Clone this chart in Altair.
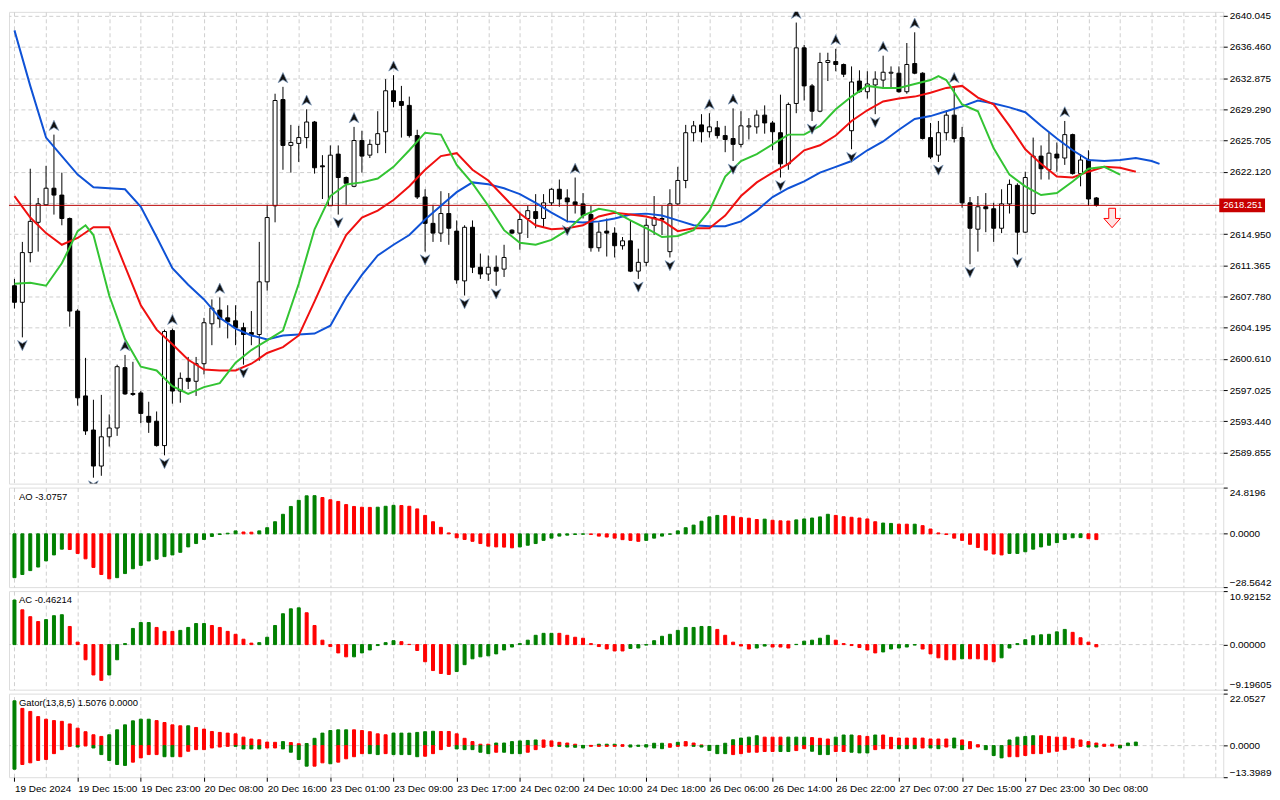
import altair as alt
import pandas as pd
import numpy as np

# ---------------- price data (H1 candles, bar index 0..137) ----------------
opens = [
    2609.01, 2607.11, 2612.82, 2616.30, 2618.31, 2620.22, 2619.43, 2616.74, 2606.10, 2596.35,
    2592.43, 2588.29, 2591.65, 2592.66, 2599.60, 2596.63, 2596.69, 2594.00, 2593.44, 2590.64,
    2603.86, 2596.91, 2598.37, 2598.03, 2600.05, 2604.64, 2606.21, 2605.32, 2604.98, 2604.19,
    2603.63, 2603.41, 2609.46, 2618.20, 2630.41, 2625.14, 2625.37, 2626.04, 2627.83, 2622.79,
    2618.20, 2624.14, 2621.45, 2620.44, 2625.70, 2624.02, 2625.26, 2626.71, 2631.42, 2630.19,
    2629.74, 2626.27, 2619.21, 2616.18, 2615.06, 2617.31, 2615.29, 2609.57, 2615.73, 2611.14,
    2610.36, 2611.14, 2610.92, 2615.40, 2615.06, 2616.74, 2617.53, 2616.74, 2618.54, 2620.10,
    2619.10, 2618.65, 2618.42, 2617.19, 2613.38, 2615.29, 2615.06, 2613.61, 2614.17, 2610.69,
    2611.70, 2615.96, 2616.74, 2612.93, 2618.42, 2621.11, 2626.60, 2627.50, 2626.71, 2627.16,
    2626.27, 2625.93, 2625.26, 2627.27, 2627.27, 2628.62, 2627.72, 2626.60, 2623.02, 2629.96,
    2636.35, 2631.98, 2629.07, 2634.67, 2634.78, 2634.44, 2626.83, 2632.54, 2631.31, 2632.09,
    2632.65, 2633.44, 2633.44, 2631.31, 2634.55, 2633.44, 2626.04, 2624.02, 2626.60, 2628.62,
    2626.04, 2618.54, 2615.51, 2618.09, 2617.86, 2615.62, 2618.42, 2620.55, 2615.17, 2617.31,
    2623.91, 2622.34, 2624.14, 2623.69, 2626.38, 2621.90, 2623.46, 2619.10]
highs = [
    2609.80, 2614.05, 2622.46, 2619.10, 2622.79, 2626.38, 2622.01, 2616.85, 2606.32, 2600.72,
    2595.91, 2596.47, 2594.22, 2599.94, 2601.06, 2600.27, 2596.91, 2595.68, 2594.56, 2603.97,
    2604.08, 2599.04, 2600.83, 2600.83, 2605.32, 2607.44, 2607.67, 2606.77, 2606.77, 2604.76,
    2606.10, 2614.05, 2618.31, 2631.08, 2631.87, 2627.50, 2627.39, 2629.29, 2627.95, 2624.02,
    2625.14, 2625.14, 2621.56, 2627.27, 2626.83, 2625.82, 2629.07, 2632.76, 2633.21, 2631.98,
    2630.75, 2626.94, 2620.10, 2618.31, 2619.88, 2619.66, 2616.52, 2615.96, 2616.52, 2612.71,
    2612.49, 2612.49, 2613.72, 2615.51, 2617.53, 2618.20, 2619.54, 2619.54, 2620.22, 2621.22,
    2620.10, 2621.45, 2619.66, 2618.20, 2616.30, 2616.74, 2615.73, 2614.61, 2616.52, 2613.27,
    2616.74, 2619.32, 2618.20, 2620.10, 2622.68, 2627.50, 2627.95, 2628.73, 2628.84, 2627.95,
    2627.39, 2629.40, 2629.07, 2628.28, 2629.18, 2629.74, 2627.95, 2630.97, 2630.07, 2639.26,
    2636.69, 2632.20, 2635.79, 2635.79, 2636.24, 2634.55, 2634.22, 2633.77, 2633.66, 2633.66,
    2635.45, 2634.22, 2634.22, 2636.91, 2638.14, 2633.55, 2627.72, 2627.95, 2629.18, 2631.87,
    2627.27, 2619.21, 2619.32, 2619.66, 2618.54, 2620.10, 2621.22, 2620.78, 2622.12, 2626.04,
    2625.14, 2626.60, 2625.48, 2627.95, 2626.49, 2624.14, 2624.58, 2619.21]
lows = [
    2606.40, 2603.08, 2611.70, 2612.93, 2618.20, 2617.19, 2615.96, 2604.31, 2595.23, 2591.87,
    2586.95, 2587.17, 2590.53, 2591.76, 2596.47, 2596.35, 2593.22, 2592.10, 2590.53, 2589.52,
    2595.46, 2595.57, 2597.14, 2596.35, 2598.82, 2602.18, 2604.19, 2602.96, 2602.18, 2599.94,
    2602.18, 2600.39, 2608.45, 2616.30, 2622.34, 2622.01, 2623.24, 2624.81, 2621.90, 2618.98,
    2618.76, 2617.19, 2618.31, 2620.33, 2622.01, 2623.69, 2624.25, 2624.25, 2629.51, 2626.04,
    2626.04, 2618.98, 2612.93, 2614.05, 2614.05, 2613.72, 2609.24, 2607.89, 2610.47, 2609.80,
    2609.57, 2609.01, 2610.02, 2614.95, 2613.16, 2614.50, 2615.62, 2615.73, 2618.20, 2618.09,
    2616.30, 2617.31, 2616.74, 2612.93, 2612.93, 2612.37, 2612.26, 2613.16, 2610.58, 2609.80,
    2611.25, 2614.84, 2614.84, 2612.26, 2618.31, 2620.22, 2625.59, 2625.48, 2626.04, 2625.93,
    2624.36, 2623.35, 2624.92, 2625.82, 2626.49, 2626.49, 2624.58, 2621.45, 2622.34, 2628.84,
    2630.30, 2627.95, 2628.95, 2632.54, 2633.66, 2632.99, 2624.70, 2631.20, 2630.52, 2628.73,
    2631.64, 2631.64, 2631.20, 2631.08, 2633.32, 2625.82, 2623.58, 2623.24, 2625.70, 2625.48,
    2617.98, 2611.48, 2612.93, 2615.17, 2614.05, 2615.06, 2617.31, 2612.60, 2615.06, 2617.19,
    2621.22, 2621.22, 2622.12, 2622.90, 2621.78, 2620.44, 2618.20, 2618.10]
closes = [
    2607.11, 2612.82, 2616.41, 2618.42, 2620.22, 2619.43, 2616.74, 2606.10, 2596.13, 2592.32,
    2588.29, 2591.65, 2592.66, 2599.71, 2596.58, 2596.52, 2594.34, 2593.33, 2590.64, 2603.75,
    2596.91, 2598.37, 2598.03, 2600.05, 2604.76, 2606.44, 2605.20, 2604.87, 2604.19, 2603.41,
    2603.41, 2609.46, 2616.85, 2630.30, 2625.14, 2625.48, 2626.04, 2627.83, 2622.57, 2622.68,
    2624.02, 2621.45, 2620.78, 2625.70, 2623.91, 2625.26, 2626.49, 2631.42, 2630.19, 2629.74,
    2626.27, 2619.21, 2616.18, 2615.06, 2617.31, 2615.62, 2609.68, 2615.73, 2611.14, 2610.36,
    2611.14, 2610.69, 2612.26, 2615.06, 2616.63, 2617.64, 2616.74, 2618.54, 2620.10, 2618.98,
    2618.65, 2618.31, 2617.08, 2613.38, 2615.17, 2615.06, 2613.61, 2614.17, 2610.69, 2611.70,
    2615.96, 2616.85, 2616.63, 2618.42, 2621.11, 2626.60, 2627.39, 2626.71, 2627.27, 2626.27,
    2625.82, 2625.26, 2627.39, 2627.39, 2628.62, 2627.72, 2626.71, 2623.02, 2629.85, 2636.35,
    2631.98, 2629.07, 2634.67, 2634.89, 2634.44, 2633.32, 2632.43, 2631.31, 2632.20, 2632.76,
    2633.55, 2633.55, 2631.31, 2634.44, 2633.44, 2625.93, 2623.80, 2626.60, 2628.62, 2625.93,
    2618.54, 2615.62, 2618.09, 2617.86, 2615.62, 2618.42, 2620.66, 2615.17, 2621.45, 2623.91,
    2622.46, 2624.25, 2623.69, 2626.38, 2621.90, 2623.46, 2618.98, 2618.251]
current_price = 2618.251

# ---------------- Alligator lines (bar index, price) ----------------
jaw_i = list(range(0, 146, 2)) + [145]
jaw = [
    2638.36, 2631.98, 2626.04, 2623.91, 2621.78, 2620.33, 2620.22, 2620.10, 2618.09, 2614.61,
    2611.03, 2609.12, 2607.44, 2605.32, 2604.08, 2603.30, 2602.85, 2603.30, 2603.41, 2603.52,
    2604.42, 2607.67, 2610.25, 2612.49, 2613.72, 2614.84, 2616.63, 2618.20, 2619.77, 2620.89,
    2620.67, 2620.22, 2619.54, 2618.54, 2617.41, 2616.41, 2616.29, 2616.41, 2616.74, 2617.19,
    2617.30, 2617.08, 2616.52, 2615.96, 2615.85, 2615.85, 2616.41, 2617.64, 2619.21, 2620.22,
    2621.00, 2622.01, 2622.68, 2623.35, 2624.58, 2625.59, 2626.94, 2628.17, 2628.51, 2629.07,
    2629.63, 2630.30, 2629.96, 2629.51, 2628.95, 2627.39, 2625.93, 2624.58, 2623.46, 2623.35,
    2623.46, 2623.69, 2623.35, 2623.02]
teeth_i = list(range(0, 143, 2))
teeth = [
    2619.32, 2616.85, 2615.06, 2613.72, 2614.50, 2615.73, 2615.73, 2611.25, 2606.77, 2603.97,
    2602.29, 2600.50, 2599.38, 2599.27, 2599.27, 2600.05, 2601.28, 2601.96, 2603.30, 2607.22,
    2611.25, 2614.84, 2616.85, 2617.64, 2618.87, 2620.44, 2622.34, 2623.91, 2624.25, 2622.34,
    2621.11, 2619.21, 2617.30, 2615.96, 2615.51, 2615.62, 2615.96, 2616.97, 2617.41, 2617.19,
    2616.97, 2616.52, 2615.29, 2615.62, 2615.62, 2617.08, 2619.32, 2620.89, 2622.01, 2623.02,
    2624.58, 2625.15, 2626.27, 2627.95, 2629.18, 2630.19, 2630.52, 2630.75, 2631.19, 2631.75,
    2631.98, 2630.63, 2629.85, 2627.39, 2624.70, 2623.02, 2621.56, 2621.45, 2622.12, 2622.68,
    2622.57, 2622.12]
lips_i = [0, 2, 4, 6, 8, 9] + list(range(10, 117, 2)) + [117] + list(range(118, 141, 2))
lips = [
    2609.24, 2609.35, 2609.01, 2611.59, 2615.29, 2615.96,
    2614.84, 2607.89, 2602.85, 2599.71, 2599.27, 2597.47, 2596.58, 2597.36, 2597.81, 2600.16,
    2601.62, 2602.74, 2603.86, 2609.24, 2615.50, 2619.32, 2620.66, 2620.89, 2621.34, 2622.68,
    2624.58, 2626.60, 2626.38, 2622.90, 2620.78, 2618.20, 2615.40, 2613.94, 2613.72, 2614.28,
    2615.40, 2617.08, 2617.86, 2617.53, 2616.52, 2615.62, 2614.61, 2614.73, 2615.40, 2617.64,
    2621.56, 2623.35, 2624.14, 2625.26, 2626.38, 2626.38, 2627.39, 2629.29, 2630.75, 2631.98,
    2631.75, 2631.75, 2632.20, 2632.65,
    2633.10,
    2632.65, 2629.85, 2629.07, 2624.81, 2621.78, 2620.44, 2619.43, 2619.66, 2621.00, 2622.46,
    2622.68, 2621.78]

# ---------------- Fractals and signal ----------------
up_fractals = [5, 14, 20, 26, 34, 37, 43, 48, 71, 88, 91, 99, 104, 110, 114, 119, 133]
down_fractals = [1, 10, 19, 29, 41, 52, 57, 61, 70, 79, 83, 91, 97, 101, 106, 109, 117, 121, 127]
signal_bar = [139]
signal_price = [2616.8]

# ---------------- Awesome Oscillator ----------------
ao = [
    -23.5, -21.8, -19.7, -17.8, -14.5, -11.3, -8.2, -8.4, -10.5, -13.4,
    -18.0, -21.8, -24.1, -23.5, -21.3, -18.7, -16.9, -14.5, -13.6, -12.2,
    -11.3, -9.9, -7.0, -5.2, -3.0, -1.4, -0.35, 0.35, 1.6, 1.0,
    0.9, 1.6, 3.3, 6.5, 10.5, 14.7, 18.0, 20.4, 20.5, 19.5,
    18.3, 17.4, 15.7, 14.7, 14.3, 14.2, 14.3, 14.8, 15.3, 15.2,
    14.8, 13.4, 9.9, 6.5, 3.5, 0.5, -2.1, -3.0, -4.0, -5.2,
    -6.6, -7.0, -7.1, -7.5, -7.0, -6.1, -5.2, -3.5, -2.3, -1.2,
    -0.7, -0.35, -0.2, -0.35, -1.2, -1.7, -2.3, -3.1, -3.5, -4.0,
    -3.5, -2.3, -1.2, -0.2, 1.6, 3.3, 4.7, 6.8, 9.1, 9.9,
    9.8, 9.4, 8.7, 8.4, 7.7, 7.9, 7.3, 7.0, 6.9, 7.5,
    8.0, 8.5, 9.1, 10.5, 9.9, 9.2, 8.9, 8.5, 8.0, 6.5,
    5.8, 5.6, 5.2, 5.2, 5.2, 4.4, 2.6, 0.5, -0.35, -2.3,
    -3.5, -5.6, -7.3, -8.7, -10.8, -11.3, -10.5, -10.5, -9.6, -8.2,
    -7.0, -6.1, -4.7, -3.0, -2.1, -2.0, -2.6, -3.0757]
ao_colors = "".join([
    "gggggggrrr", "rrrggggggg", "gggggggggr", "rggggggggr", "rrrrrrgggr",
    "rrrrrrrrrr", "rrrrgggggg", "gggrrrrrrr", "gggggggggg", "rrrrrgrrrg",
    "ggggrrrrrr", "ggrrgrrrrr", "rrrrrrgggg", "ggggggrr"])

# ---------------- Accelerator Oscillator ----------------
ac = [
    9.1, 7.1, 5.7, 4.7, 5.1, 5.9, 6.1, 3.7, 0.5, -3.1,
    -6.2, -7.3, -6.2, -3.1, 0.2, 3.3, 4.5, 4.5, 3.5, 2.7,
    2.7, 2.9, 3.5, 4.3, 4.3, 3.9, 3.5, 2.7, 2.1, 1.1,
    0.3, 0.4, 1.5, 3.9, 6.3, 7.3, 7.5, 6.5, 3.9, 0.9,
    -0.4, -1.7, -2.5, -2.5, -1.7, -1.1, -0.2, 0.4, 0.8, 0.6,
    0.05, -1.2, -3.5, -5.3, -5.9, -6.1, -5.5, -4.1, -2.9, -2.5,
    -2.3, -1.9, -1.1, -0.5, 0.2, 0.9, 1.9, 2.3, 2.3, 2.3,
    1.9, 1.5, 1.3, 0.2, -0.4, -0.9, -1.3, -1.3, -0.8, -0.7,
    -0.1, 0.8, 1.7, 2.1, 2.9, 3.5, 3.5, 3.7, 3.7, 3.1,
    1.9, 0.5, -0.3, -0.9, -0.7, -0.3, -0.5, -0.5, -0.7, 0.05,
    0.7, 0.9, 1.3, 1.9, 0.9, 0.2, -0.2, -0.6, -1.1, -1.7,
    -1.5, -0.9, -0.7, -0.5, -0.1, -0.9, -1.9, -2.7, -3.1, -3.1,
    -2.9, -2.9, -2.9, -3.1, -3.5, -2.7, -0.7, 0.2, 1.0, 1.8,
    2.0, 2.1, 2.6, 3.1, 2.5, 1.4, 0.5, -0.46214]
ac_colors = "".join([
    "grrrgggrrr", "rrggggggrr", "rggggrrrrr", "rggggggrrr", "rrrggggggr",
    "rrrrrrgggg", "gggggggggr", "rrrrrrrrgg", "gggggggggr", "rrrrggrrrg",
    "ggggrrrrrr", "gggggrrrrr", "grrrrggggg", "ggggrrrr"])

# ---------------- Gator Oscillator ----------------
gator_up = [
    19.0, 15.8, 14.5, 12.3, 11.2, 10.6, 10.3, 9.2, 7.4, 5.9,
    4.6, 3.9, 4.6, 6.7, 8.8, 10.5, 11.2, 11.2, 10.6, 9.8,
    8.8, 8.4, 8.4, 7.7, 7.0, 6.0, 5.6, 5.3, 5.0, 3.6,
    2.8, 2.5, 1.5, 1.4, 1.7, 1.3, 0.8, 0.9, 3.1, 5.3,
    6.4, 6.7, 6.7, 6.7, 6.4, 5.9, 5.0, 4.6, 5.3, 5.3,
    5.3, 5.6, 5.9, 6.1, 6.0, 6.0, 5.0, 3.1, 1.7, 0.6,
    0.6, 1.1, 1.1, 1.7, 2.0, 2.2, 2.4, 2.4, 2.0, 1.4,
    1.1, 0.6, 0.1, 0.1, 0.6, 0.6, 0.6, 0.4, 0.3, 0.2,
    0.4, 1.0, 1.0, 0.8, 1.4, 1.7, 1.1, 0.3, 0.1, 0.1,
    1.0, 2.5, 3.2, 3.6, 4.2, 3.6, 3.6, 3.6, 3.6, 3.6,
    3.6, 3.4, 3.1, 2.8, 3.6, 4.5, 4.5, 4.2, 3.9, 4.5,
    4.5, 3.5, 3.2, 3.2, 3.2, 3.2, 2.8, 2.8, 2.8, 3.2,
    2.4, 1.7, 0.4, 0.0, 0.0, 0.0, 2.4, 3.6, 3.9, 4.2,
    4.2, 3.9, 3.6, 3.6, 3.1, 2.4, 1.7, 1.1, 0.6, 0.6,
    0.2, 1.1, 1.5076]
gator_up_colors = "".join([
    "grrrrrrrrr", "rrggggggrr", "rrgrrrrrrr", "rrrrgrrggg", "gggrrrrrgg",
    "ggggrrrrrr", "rggggggrrr", "rrgrgggrgg", "gggrgrrrgg", "gggggrrrgg",
    "grrrgggrrg", "rrrrrrrrrg", "rrrrrrgggg", "rrrrrrrrrr", "rgg"])
gator_dn = [
    -10.0, -8.0, -7.3, -6.3, -5.9, -3.4, -1.7, -0.3, -0.6, -0.1,
    -1.0, -3.8, -6.3, -8.0, -8.4, -7.0, -5.2, -3.8, -3.8, -4.7,
    -4.7, -4.7, -2.4, -1.7, -1.7, -1.0, -0.6, -0.3, -0.3, -1.4,
    -1.4, -1.4, -1.0, -1.0, -1.4, -2.8, -5.9, -8.7, -8.7, -7.3,
    -7.7, -7.0, -5.6, -4.7, -3.4, -3.4, -3.8, -3.4, -3.8, -3.8,
    -3.8, -4.7, -4.5, -3.4, -1.7, -0.3, -1.4, -1.7, -1.7, -2.8,
    -3.4, -2.8, -2.8, -3.4, -3.4, -2.8, -1.7, -0.7, -0.3, -0.3,
    -0.6, -0.7, -1.0, -0.3, -0.3, -0.3, -0.3, -0.3, -0.6, -0.3,
    -0.6, -1.0, -1.3, -0.7, -0.3, -0.1, -0.3, -0.6, -2.1, -3.4,
    -3.4, -3.8, -3.4, -2.8, -2.8, -2.5, -2.5, -2.5, -2.5, -2.1,
    -1.3, -2.4, -3.8, -3.8, -2.5, -2.5, -2.8, -3.1, -3.1, -1.7,
    -1.3, -1.3, -1.3, -1.3, -1.3, -1.0, -1.0, -1.3, -0.6, -1.0,
    -1.7, -1.3, -0.6, -1.7, -4.2, -5.2, -4.7, -4.7, -4.2, -3.4,
    -3.4, -2.8, -2.4, -1.7, -1.0, -0.3, -0.6, -0.6, -0.3, -0.2,
    -1.0]
gator_dn_colors = "".join([
    "grrrrrrrgr", "gggggrrrrg", "grrrrrrrgg", "ggrrggggrr", "grrrrggrgg",
    "ggrrrrgggg", "grgggrrrrg", "gggrrrrrgg", "gggrrrgggg", "grrrrrrggr",
    "rgggrrgggr", "rrgggrggrg", "grrgggrrrr", "rrrrrrggrr", "g"])

# ---------------- axes texts ----------------
price_ticks = [2640.045, 2636.460, 2632.875, 2629.290, 2625.705, 2622.120, 2618.535,
               2614.950, 2611.365, 2607.780, 2604.195, 2600.610, 2597.025, 2593.440, 2589.855]
time_ticks = list(range(0, 137, 8))
time_labels = ["19 Dec 2024", "19 Dec 15:00", "19 Dec 23:00", "20 Dec 08:00", "20 Dec 16:00",
               "23 Dec 01:00", "23 Dec 09:00", "23 Dec 17:00", "24 Dec 02:00", "24 Dec 10:00",
               "24 Dec 18:00", "26 Dec 06:00", "26 Dec 14:00", "26 Dec 22:00", "27 Dec 07:00",
               "27 Dec 15:00", "27 Dec 23:00", "30 Dec 08:00"]
panel_titles = ["AO -3.0757", "AC -0.46214", "Gator(13,8,5) 1.5076 0.0000"]
ao_range = [-28.5642, 24.8196]
ac_range = [-9.19605, 10.92152]
gator_range = [-13.3989, 22.0527]
main_range = [2586.27, 2640.49]

# ---------------- styling ----------------
W = 1220
H_MAIN, H_AO, H_AC, H_GA = 474, 100, 99, 84
X_MIN = -0.0625
X_MAX = X_MIN + W / 8.0
FONT = "Liberation Sans"
FS = 9.5
GRID = "#cfcfcf"
DASH = [4, 3]
GREEN = "#008000"
RED = "#ff0000"
col_scale = alt.Scale(domain=["g", "r"], range=[GREEN, RED])
xs = alt.Scale(domain=[X_MIN, X_MAX], nice=False, zero=False)


def grid_axis(orient="bottom"):
    return alt.Axis(orient=orient, values=list(range(0, 153, 4)), grid=True, gridColor=GRID,
                    gridDash=DASH, gridWidth=1, labels=False, ticks=False, domain=False, title=None)


GX = grid_axis()

# ---------------- main panel ----------------
cdf = pd.DataFrame({"i": range(len(opens)), "o": opens, "h": highs, "l": lows, "c": closes})
up_c = cdf[cdf["c"] >= cdf["o"]]
dn_c = cdf[cdf["c"] < cdf["o"]]
ys_main = alt.Scale(domain=main_range, nice=False, zero=False)
PY = alt.Axis(orient="right", values=price_ticks, grid=True, gridColor=GRID, gridDash=DASH,
              tickSize=4, tickColor="black", domain=False, title=None, labelPadding=2,
              labelExpr="abs(datum.value - 2618.535) < 0.0005 ? '' : format(datum.value, '.3f')")


def mx(field="i:Q"):
    return alt.X(field, scale=xs, axis=GX, title=None)


def my(field):
    return alt.Y(field, scale=ys_main, axis=PY, title=None)


wicks = alt.Chart(cdf).mark_rule(color="black", strokeWidth=1, clip=True).encode(
    x=mx(), y=my("l:Q"), y2="h:Q")
bodies_up = alt.Chart(up_c).mark_bar(size=4, fill="white", stroke="black", strokeWidth=1, clip=True).encode(
    x=mx(), y=my("o:Q"), y2="c:Q")
bodies_dn = alt.Chart(dn_c).mark_bar(size=4, fill="black", stroke="black", strokeWidth=1, clip=True).encode(
    x=mx(), y=my("o:Q"), y2="c:Q")


def line_layer(idx, vals, color):
    df = pd.DataFrame({"i": idx, "v": vals})
    return alt.Chart(df).mark_line(color=color, strokeWidth=2, clip=True).encode(x=mx(), y=my("v:Q"))


jaw_l = line_layer(jaw_i, jaw, "#0f52d6")
teeth_l = line_layer(teeth_i, teeth, "#f01010")
lips_l = line_layer(lips_i, lips, "#33c433")

cur_df = pd.DataFrame({"p": [current_price], "t": [f"{current_price:.3f}"]})
price_rule = alt.Chart(cur_df).mark_rule(color="#b80000", strokeWidth=1).encode(y=my("p:Q"))

UP_PATH = "M0,-1 L0.9,0.9 L0,0.35 L-0.9,0.9 Z"
DN_PATH = "M0,1 L0.9,-0.9 L0,-0.35 L-0.9,-0.9 Z"
up_df = pd.DataFrame({"i": up_fractals, "p": [highs[k] for k in up_fractals]})
dn_df = pd.DataFrame({"i": down_fractals, "p": [lows[k] for k in down_fractals]})
up_pts = alt.Chart(up_df).mark_point(shape=UP_PATH, filled=True, fill="#111111", stroke="#7d9cc0",
                                     strokeWidth=0.7, size=115, opacity=1, yOffset=-9, clip=True).encode(
    x=mx(), y=my("p:Q"))
dn_pts = alt.Chart(dn_df).mark_point(shape=DN_PATH, filled=True, fill="#111111", stroke="#7d9cc0",
                                     strokeWidth=0.7, size=115, opacity=1, yOffset=8, clip=True).encode(
    x=mx(), y=my("p:Q"))

SIG_PATH = "M-0.35,-1 L0.35,-1 L0.35,0.05 L0.85,0.05 L0,1 L-0.85,0.05 L-0.35,0.05 Z"
sig_df = pd.DataFrame({"i": signal_bar, "p": signal_price})
signal = alt.Chart(sig_df).mark_point(shape=SIG_PATH, filled=True, fill="#ffe4e4", stroke="#ff0000",
                                      strokeWidth=1, size=380, opacity=1).encode(x=mx(), y=my("p:Q"))

tag_rect = alt.Chart(cur_df).mark_rect(color="#c80000", xOffset=1, x2Offset=47,
                                       yOffset=-7, y2Offset=7).encode(
    x=alt.XDatum(X_MAX, scale=xs, axis=GX), x2=alt.X2Datum(X_MAX),
    y=my("p:Q"), y2="p:Q")
tag_text = alt.Chart(cur_df).mark_text(align="left", baseline="middle", dx=5, color="white",
                                       font=FONT, fontSize=FS).encode(
    x=alt.XDatum(X_MAX, scale=xs, axis=GX), y=my("p:Q"), text="t:N")

main = alt.layer(wicks, bodies_up, bodies_dn, price_rule, jaw_l, teeth_l, lips_l, up_pts, dn_pts,
                 signal, tag_rect, tag_text).properties(width=W, height=H_MAIN)


# ---------------- indicator panels ----------------
def hist_df(vals, colors):
    df = pd.DataFrame({"i": range(len(vals)), "v": vals, "c": list(colors)})
    df["z"] = 0.0
    return df[df["v"] != 0]


def panel_axis(rng, fmt):
    return alt.Axis(orient="right", values=[rng[0], 0, rng[1]], format=fmt, tickSize=4,
                    tickColor="black", domain=False, grid=False, labelFlush=True, title=None,
                    labelPadding=2)


def hist_layer(df, ys, yaxis, xaxis):
    return alt.Chart(df).mark_bar(size=3, strokeWidth=1, clip=True).encode(
        x=alt.X("i:Q", scale=xs, axis=xaxis, title=None),
        y=alt.Y("v:Q", scale=ys, axis=yaxis, title=None),
        y2="z:Q",
        fill=alt.Fill("c:N", scale=col_scale, legend=None),
        stroke=alt.Stroke("c:N", scale=col_scale, legend=None))


def zero_layer(ys, yaxis):
    return alt.Chart(pd.DataFrame({"z": [0.0]})).mark_rule(
        color=GRID, strokeDash=DASH, strokeWidth=1).encode(
        y=alt.Y("z:Q", scale=ys, axis=yaxis, title=None))


def title_layer(title, rng, ys, yaxis, xaxis):
    return alt.Chart(pd.DataFrame({"t": [title]})).mark_text(
        align="left", baseline="top", dx=5, dy=4, font=FONT, fontSize=FS, color="black").encode(
        x=alt.XDatum(X_MIN, scale=xs, axis=xaxis),
        y=alt.YDatum(rng[1], scale=ys, axis=yaxis), text="t:N")


def indicator(vals, colors, rng, fmt, title, height):
    ys = alt.Scale(domain=rng, nice=False, zero=False)
    ya = panel_axis(rng, fmt)
    return alt.layer(
        zero_layer(ys, ya),
        hist_layer(hist_df(vals, colors), ys, ya, GX),
        title_layer(title, rng, ys, ya, GX),
    ).properties(width=W, height=height)


ao_panel = indicator(ao, ao_colors, ao_range, ".4f", panel_titles[0], H_AO)
ac_panel = indicator(ac, ac_colors, ac_range, ".5f", panel_titles[1], H_AC)

label_array = "[" + ",".join("'" + s + "'" for s in time_labels) + "]"
time_axis = alt.Axis(orient="bottom", values=time_ticks, labelExpr=label_array + "[round(datum.value / 8)]",
                     labelAlign="left", labelBaseline="top", labelPadding=2, tickSize=4,
                     tickColor="black", domain=False, grid=False, title=None, labelOverlap=False)
ys_ga = alt.Scale(domain=gator_range, nice=False, zero=False)
ya_ga = panel_axis(gator_range, ".4f")
ga_panel = alt.layer(
    zero_layer(ys_ga, ya_ga),
    hist_layer(hist_df(gator_up, gator_up_colors), ys_ga, ya_ga, grid_axis("top")),
    hist_layer(hist_df(gator_dn, gator_dn_colors), ys_ga, ya_ga, time_axis),
    title_layer(panel_titles[2], gator_range, ys_ga, ya_ga, None),
).resolve_axis(x="independent").properties(width=W, height=H_GA)

chart = alt.vconcat(main, ao_panel, ac_panel, ga_panel, spacing=2).properties(
    padding={"left": 0, "top": 0, "right": 0, "bottom": 0}
).configure_view(stroke="black", strokeWidth=1).configure_axis(
    labelFont=FONT, labelFontSize=FS, labelColor="black"
).configure(background="white")

chart.save("out.html", embed_options={"renderer": "svg", "actions": False})
